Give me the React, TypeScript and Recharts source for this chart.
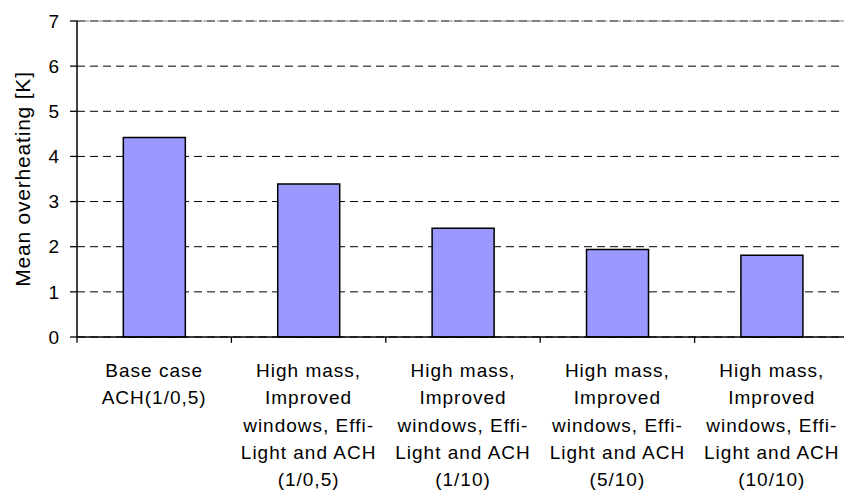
import { BarChart, Bar, XAxis, YAxis, CartesianGrid, ReferenceLine } from 'recharts';

// Scenario labels (one line per array entry)
const categories: string[][] = [
    ['Base case', 'ACH(1/0,5)'],
    ['High mass,', 'Improved', 'windows, Effi-', 'Light and ACH', '(1/0,5)'],
    ['High mass,', 'Improved', 'windows, Effi-', 'Light and ACH', '(1/10)'],
    ['High mass,', 'Improved', 'windows, Effi-', 'Light and ACH', '(5/10)'],
    ['High mass,', 'Improved', 'windows, Effi-', 'Light and ACH', '(10/10)'],
];

// Mean overheating in K
const overheating = [4.42, 3.39, 2.41, 1.94, 1.81];

const yTicks = [0, 1, 2, 3, 4, 5, 6, 7];
const edgeTicks = [0, 1, 2, 3, 4, 5];

const data = categories.map((lines, i) => ({
    name: String(i),
    pos: i + 0.5,
    value: overheating[i],
}));

const FONT = '"Liberation Sans", Arial, sans-serif';
// tick mark lengths in data units of the edge axis / value axis
const Y_TICK_LEN = 0.045;
const X_TICK_LEN = 0.13;

function CategoryTick({ x, y, payload }: any) {
    const lines = categories[Number(payload.value)];
    if (!lines) return null;
    return (
        <text x={x} y={y} textAnchor="middle" fontFamily={FONT} fontSize={19} fill="#000" letterSpacing={1}>
            {lines.map((line, i) => (
                <tspan key={i} x={x} dy={i === 0 ? 32 : 27.3}>
                    {line}
                </tspan>
            ))}
        </text>
    );
}

export default function App() {
    return (
        <div style={{ position: 'absolute', left: 0, top: 0, width: 844, height: 494, overflow: 'hidden', background: '#fff' }}>
            <BarChart
                width={860}
                height={494}
                data={data}
                margin={{ top: 21, right: 11, left: 0, bottom: 7 }}
                barCategoryGap="30%"
            >
                <CartesianGrid vertical={false} stroke="#000" strokeDasharray="8 5" />
                <ReferenceLine y={7} stroke="#808080" strokeDasharray="12 2" />
                <XAxis
                    dataKey="name"
                    height={150}
                    axisLine={false}
                    tickLine={false}
                    interval={0}
                    tick={<CategoryTick />}
                />
                <XAxis xAxisId="edges" dataKey="pos" type="number" domain={[0, 5]} hide allowDataOverflow />
                <YAxis
                    width={77}
                    domain={[0, 7]}
                    ticks={yTicks}
                    interval={0}
                    tickSize={7}
                    tickMargin={11}
                    axisLine={false}
                    tickLine={false}
                    tick={{ fill: '#000', fontSize: 19, fontFamily: FONT }}
                    label={{
                        value: 'Mean overheating [K]',
                        angle: -90,
                        position: 'center',
                        dx: -16,
                        fill: '#000',
                        fontSize: 21,
                        letterSpacing: 0.8,
                        fontFamily: FONT,
                    }}
                />
                <Bar dataKey="value" fill="#9999FF" stroke="#000" strokeWidth={1.5} isAnimationActive={false} />
                {/* axis lines and tick marks */}
                <ReferenceLine xAxisId="edges" x={0} stroke="#000" strokeWidth={1.5} />
                <ReferenceLine y={0} stroke="#000" strokeWidth={1.5} />
                {yTicks.map((t) => (
                    <ReferenceLine
                        key={`y${t}`}
                        xAxisId="edges"
                        segment={[{ x: -Y_TICK_LEN, y: t }, { x: 0, y: t }]}
                        stroke="#000"
                        strokeWidth={1.3}
                        ifOverflow="visible"
                    />
                ))}
                {edgeTicks.map((t) => (
                    <ReferenceLine
                        key={`x${t}`}
                        xAxisId="edges"
                        segment={[{ x: t, y: 0 }, { x: t, y: -X_TICK_LEN }]}
                        stroke="#000"
                        strokeWidth={1.3}
                        ifOverflow="visible"
                    />
                ))}
            </BarChart>
        </div>
    );
}
